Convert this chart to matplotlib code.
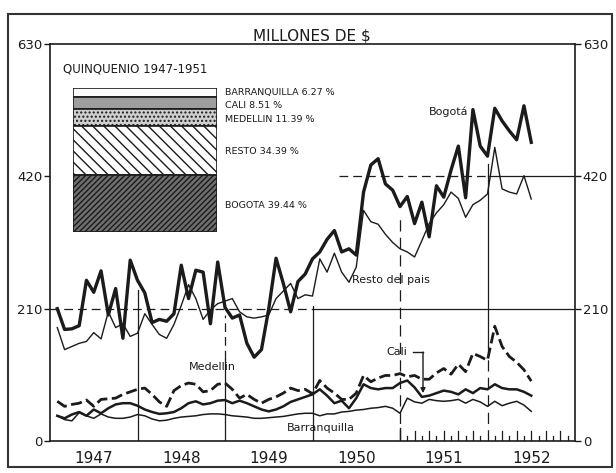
import numpy as np
from matplotlib import pyplot as plt
from matplotlib.patches import Rectangle

# monthly figures, jan 1947 - jun 1952 (millones de $)
bogota = [210, 177, 178, 183, 255, 236, 270, 200, 242, 163, 287, 255,
          235, 188, 193, 190, 202, 279, 226, 271, 268, 186, 284, 212,
          195, 200, 155, 133, 145, 210, 290, 250, 205, 253, 265, 289,
          300, 320, 334, 300, 305, 295, 395, 438, 448, 408, 398, 372,
          388, 345, 379, 324, 405, 387, 430, 468, 386, 526, 468, 452,
          528, 508, 492, 478, 532, 474]
resto = [180, 145, 150, 155, 158, 172, 162, 205, 180, 186, 166, 171,
         202, 185, 169, 163, 185, 215, 248, 226, 193, 208, 218, 222,
         226, 205, 197, 195, 197, 200, 226, 238, 250, 226, 232, 230,
         289, 268, 298, 268, 252, 276, 366, 348, 344, 328, 315, 305,
         300, 292, 318, 345, 362, 375, 395, 385, 355, 375, 382, 392,
         466, 400, 395, 392, 421, 384]
medellin = [63, 55, 58, 60, 65, 55, 66, 67, 68, 74, 78, 82,
            84, 74, 62, 55, 80, 88, 92, 90, 78, 80, 90, 92,
            82, 68, 74, 66, 60, 66, 70, 76, 84, 80, 82, 75,
            96, 84, 76, 66, 66, 76, 104, 94, 100, 104, 104, 107,
            102, 104, 98, 98, 108, 115, 106, 122, 110, 139, 134, 128,
            182, 150, 134, 125, 113, 95]
cali = [40, 36, 42, 46, 40, 50, 44, 52, 58, 60, 60, 56,
        50, 46, 43, 44, 46, 52, 60, 63, 58, 60, 64, 65,
        60, 64, 60, 55, 50, 47, 50, 55, 62, 66, 70, 74,
        82, 72, 60, 64, 52, 68, 90, 84, 82, 84, 84, 92,
        96, 85, 70, 72, 76, 80, 78, 74, 82, 76, 84, 82,
        90, 84, 82, 82, 78, 72]
barranquilla = [40, 34, 32, 45, 40, 36, 43, 38, 36, 36, 38, 42,
                40, 35, 32, 33, 36, 38, 39, 40, 42, 43, 43, 42,
                40, 39, 38, 36, 36, 37, 38, 39, 41, 43, 44, 44,
                40, 43, 43, 46, 47, 49, 50, 52, 53, 55, 52, 44,
                68, 62, 60, 66, 64, 63, 64, 66, 60, 66, 62, 55,
                63, 56, 60, 63, 57, 47]

years = [1947, 1948, 1949, 1950, 1951, 1952]

# quinquenio 1947-1951 shares, top to bottom
share_names = ['BARRANQUILLA', 'CALI', 'MEDELLIN', 'RESTO', 'BOGOTA']
share_values = [6.27, 8.51, 11.39, 34.39, 39.44]

INK = '#1b1b1b'
W, H = 616, 473


def px(x, y):
    # figure pixel -> figure fraction
    return x / W, 1 - y / H


def main():
    plt.rcParams['font.family'] = ['DejaVu Sans']
    plt.rcParams['hatch.color'] = INK
    fig = plt.figure(figsize=(W / 100, H / 100), dpi=100)
    fig.patch.set_facecolor('white')

    ax = fig.add_axes([50 / W, 1 - 441 / H, 525 / W, 397 / H])
    t = 1947 + (np.arange(len(bogota)) + 1) / 12

    # grid pieces, drawn by hand like the original
    ax.plot([1947, 1950], [210, 210], color=INK, lw=0.9, ls=(0, (7, 4)))
    ax.plot([1950, 1953], [210, 210], color=INK, lw=0.9)
    ax.plot([1950.3, 1952], [420, 420], color=INK, lw=0.9, ls=(0, (7, 4)))
    ax.plot([1952, 1953], [420, 420], color=INK, lw=0.9)
    ax.plot([1948, 1948], [0, 240], color=INK, lw=0.9)
    ax.plot([1949, 1949], [0, 130], color=INK, lw=0.9)
    ax.plot([1949, 1949], [130, 200], color=INK, lw=0.9, ls=(0, (7, 4)))
    ax.plot([1950, 1950], [0, 215], color=INK, lw=0.9)
    ax.plot([1951, 1951], [0, 360], color=INK, lw=0.9, ls=(0, (9, 5)))
    ax.plot([1952, 1952], [150, 440], color=INK, lw=0.9)
    ax.plot([1952, 1952], [0, 150], color=INK, lw=0.9, ls=(0, (9, 5)))

    # monthly ticks 1951-1952
    for k in range(1, 24):
        if k == 12:
            continue
        h = 16 if k % 2 == 0 else 8
        ax.plot([1951 + k / 12] * 2, [0, h], color=INK, lw=0.9)
    ax.plot([1951, 1951], [0, 20], color=INK, lw=1.0)

    ax.plot(t, barranquilla, color=INK, lw=1.1)
    ax.plot(t, cali, color=INK, lw=1.8)
    ax.plot(t, medellin, color=INK, lw=2.0, ls=(0, (4, 1.6)))
    ax.plot(t, resto, color=INK, lw=1.0)
    ax.plot(t, bogota, color=INK, lw=2.4)

    ax.set_xlim(1947, 1953)
    ax.set_ylim(0, 630)
    ax.set_yticks([0, 210, 420, 630])
    ax.tick_params(axis='y', direction='out', length=4, width=1, labelsize=9.5,
                   colors=INK, right=True, labelright=True, pad=1.5)
    ax.set_xticks([y + 0.5 for y in years])
    ax.set_xticklabels([str(y) for y in years], fontsize=11, color=INK)
    ax.tick_params(axis='x', length=0, pad=7)
    for s in ax.spines.values():
        s.set_color(INK)
        s.set_linewidth(1.2)

    # series labels
    ax.text(1951.777, 522, 'Bogotá', fontsize=8, color=INK, ha='right', va='center')
    ax.text(1950.45, 256, 'Resto del pais', fontsize=8, color=INK, ha='left', va='center')
    ax.text(1948.85, 117, 'Medellin', fontsize=8, color=INK, ha='center', va='center')
    ax.text(1950.10, 21, 'Barranquilla', fontsize=8, color=INK, ha='center', va='center')
    ax.text(1950.96, 141, 'Cali', fontsize=8, color=INK, ha='center', va='center')
    ax.plot([1951.15, 1951.263], [141, 141], color=INK, lw=1.0)
    ax.annotate('', xy=(1951.263, 76), xytext=(1951.263, 141),
                arrowprops=dict(arrowstyle='-|>', color=INK, lw=1.0,
                                mutation_scale=7, shrinkA=0, shrinkB=0))

    fig.text(*px(312, 36), 'MILLONES DE $', fontsize=11, color=INK,
             ha='center', va='center')
    fig.text(*px(63, 69), 'QUINQUENIO 1947-1951', fontsize=8.5, color=INK,
             ha='left', va='center')

    # stacked share bar
    bx = fig.add_axes([73 / W, 1 - 232 / H, 144 / W, 144 / H])
    fills = ['white', '#9e9e9e', '#cfcfcf', 'white', '#6e6e6e']
    hatches = [None, None, '....', '\\\\\\', '//////']
    top = 100.0
    label_y = [92, 105, 120, 152, 205]
    for name, v, fc, ht, ly in zip(share_names, share_values, fills, hatches, label_y):
        bx.bar(0.5, v, width=1, bottom=top - v, color=fc, hatch=ht,
               edgecolor=INK, linewidth=1.2)
        top -= v
        fig.text(*px(225, ly), f'{name} {v:.2f} %', fontsize=6.8,
                 color=INK, ha='left', va='center')
    bx.set_xlim(0, 1)
    bx.set_ylim(0, 100)
    bx.axis('off')

    fig.patches.append(Rectangle((8 / W, 1 - 467 / H), 604 / W, 453 / H,
                                 transform=fig.transFigure, fill=False,
                                 edgecolor='#333333', lw=1.5))

    fig.savefig('out.png', dpi=100)


if __name__ == '__main__':
    main()
